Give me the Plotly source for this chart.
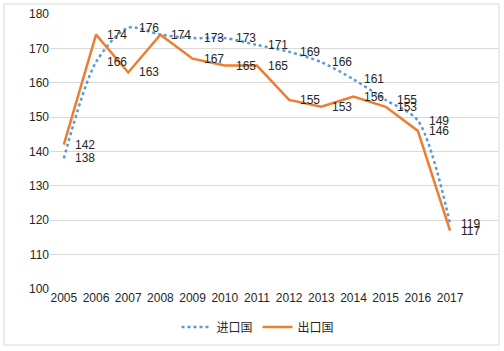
import plotly.graph_objects as go

years = [2005, 2006, 2007, 2008, 2009, 2010, 2011, 2012, 2013, 2014, 2015, 2016, 2017]
import_vals = [138, 166, 176, 174, 173, 173, 171, 169, 166, 161, 155, 149, 119]
export_vals = [142, 174, 163, 174, 167, 165, 165, 155, 153, 156, 153, 146, 117]
import_name = "进口国"
export_name = "出口国"
y_ticks = [100, 110, 120, 130, 140, 150, 160, 170, 180]

# label for import 2008 is hidden behind the export label in the reference
import_show = [True] * len(years)
import_show[3] = False

W, H = 504, 351
L, R, T, B = 50, 6, 14, 62
pw, ph = W - L - R, H - T - B

def px(x):
    return (x - L) / pw

def py(y):
    return (H - B - y) / ph

font = dict(family="Liberation Sans, Arial, Noto Sans CJK SC, sans-serif", size=12, color="#262626")

fig = go.Figure()
fig.add_trace(go.Scatter(
    x=years, y=import_vals, name=import_name, mode="lines",
    line=dict(color="#5B9BD5", width=2.5, dash="dot", shape="spline", smoothing=0.8),
))
fig.add_trace(go.Scatter(
    x=years, y=export_vals, name=export_name, mode="lines",
    line=dict(color="#ED7D31", width=2.5),
))

annotations = []
for yr, v, show in zip(years, import_vals, import_show):
    if show:
        annotations.append(dict(x=yr, y=v, xref="x", yref="y", text=str(v), showarrow=False,
                                xanchor="left", yanchor="middle", xshift=9, font=font))
for yr, v in zip(years, export_vals):
    annotations.append(dict(x=yr, y=v, xref="x", yref="y", text=str(v), showarrow=False,
                            xanchor="left", yanchor="middle", xshift=9, font=font))

fig.update_layout(
    width=W, height=H,
    margin=dict(l=L, r=R, t=T, b=B),
    paper_bgcolor="white", plot_bgcolor="white",
    font=font,
    showlegend=True,
    legend=dict(orientation="h", x=px(258), xanchor="center", y=py(327), yanchor="middle",
                font=dict(family="Noto Sans CJK SC, sans-serif", size=12, color="#262626"),
                tracegroupgap=0),
    xaxis=dict(range=[2004.57, 2018.49], tickvals=years, ticktext=[str(y) for y in years],
               showgrid=False, zeroline=False, showline=False, ticks="",
               tickfont=dict(size=12)),
    yaxis=dict(range=[100, 180], tickvals=y_ticks, showgrid=True, gridcolor="#d9d9d9",
               gridwidth=1, zeroline=False, showline=False, ticks="",
               tickfont=dict(size=12)),
    annotations=annotations,
    shapes=[dict(type="rect", xref="paper", yref="paper",
                 x0=px(4), x1=px(499), y0=py(345), y1=py(4),
                 line=dict(color="#d9d9d9", width=1), layer="above")],
)

fig.write_html("out.html", config={"displayModeBar": False},
               post_script="document.body.style.margin='0';")
